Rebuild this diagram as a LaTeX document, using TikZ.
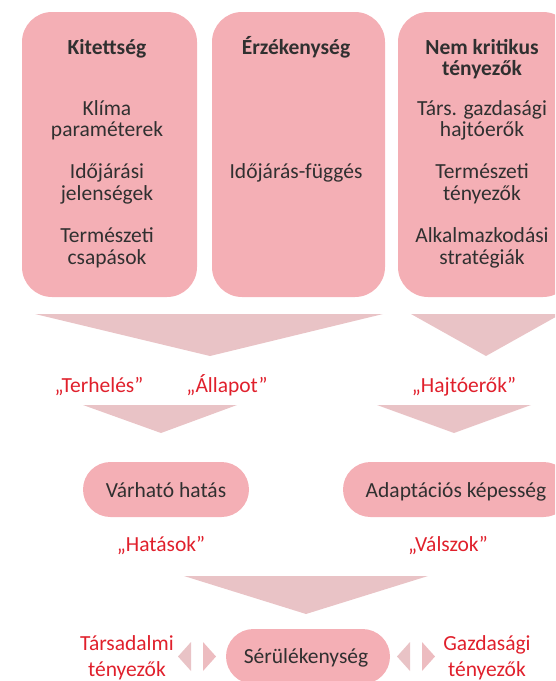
\documentclass[tikz,border=0pt]{standalone}
\usepackage{fontspec}
\setmainfont{Carlito}
\definecolor{boxpink}{HTML}{F4AFB5}
\definecolor{arrpink}{HTML}{E9C3C6}
\definecolor{arrpinkb}{HTML}{EDBCC0}
\definecolor{lblred}{HTML}{E0202C}
\definecolor{txtgray}{HTML}{303030}
\tikzset{
  bigbox/.style={fill=boxpink, draw=none, rounded corners=30pt, inner sep=0pt},
  pill/.style={fill=boxpink, draw=none, rounded corners=27.5pt, inner sep=0pt, minimum height=55pt},
  boxtxt/.style={anchor=base, inner sep=0pt, text=txtgray, font=\fontsize{21.5}{21.5}\selectfont},
  boxhead/.style={boxtxt, font=\fontsize{21.5}{21.5}\selectfont\bfseries},
  lbl/.style={anchor=base, inner sep=0pt, text=lblred, font=\fontsize{21.5}{21.5}\selectfont},
  bigarrow/.style={fill=arrpink, draw=none},
}
\begin{document}
\begin{tikzpicture}[x=1pt,y=-1pt]
\useasboundingbox (0,0) rectangle (555,681);
\clip (0,0) rectangle (555,681);
% top boxes
\node[bigbox, minimum width=175pt, minimum height=285pt] (b1) at (109.5,154.5) {};
\node[bigbox, minimum width=173pt, minimum height=285pt] (b2) at (298.5,154.5) {};
\node[bigbox, minimum width=175pt, minimum height=285pt] (b3) at (485.5,154.5) {};
% box 1 text
\node[boxhead] (t11) at (107,54) {Kitettség};
\node[boxtxt] (t12) at (107,115) {Klíma};
\node[boxtxt] (t13) at (107,136) {paraméterek};
\node[boxtxt] (t14) at (107,178) {Időjárási};
\node[boxtxt] (t15) at (107,200) {jelenségek};
\node[boxtxt] (t16) at (107,242) {Természeti};
\node[boxtxt] (t17) at (107,264) {csapások};
% box 2 text
\node[boxhead] (t21) at (296,54) {Érzékenység};
\node[boxtxt] (t22) at (296,178) {Időjárás-függés};
% box 3 text
\node[boxhead] (t31) at (482,54) {Nem kritikus};
\node[boxhead] (t32) at (482,75) {tényezők};
\node[boxtxt] (t33) at (482,115) {Társ. gazdasági};
\node[boxtxt] (t34) at (482,136) {hajtóerők};
\node[boxtxt] (t35) at (482,178) {Természeti};
\node[boxtxt] (t36) at (482,200) {tényezők};
\node[boxtxt] (t37) at (482,242) {Alkalmazkodási};
\node[boxtxt] (t38) at (482,264) {stratégiák};
% big arrows
\fill[bigarrow] (35,314) -- (383,314) -- (210,356) -- cycle;
\fill[bigarrow] (411,314) -- (561,314) -- (486,356) -- cycle;
\fill[bigarrow] (83,405) -- (237,405) -- (161,433) -- cycle;
\fill[bigarrow] (377,405) -- (531,405) -- (454,433) -- cycle;
\fill[bigarrow] (184,576) -- (428,576) -- (306,614) -- cycle;
% labels
\node[lbl] (l1) at (99,392) {„Terhelés”};
\node[lbl] (l2) at (227,392) {„Állapot”};
\node[lbl] (l3) at (464,392) {„Hajtóerők”};
\node[lbl] (l4) at (161,551) {„Hatások”};
\node[lbl] (l5) at (448,551) {„Válszok”};
% pills
\node[pill, minimum width=166pt] (p1) at (166,489.5) {};
\node[boxtxt] (p1t) at (166,497) {Várható hatás};
\node[pill, minimum width=228pt] (p2) at (457,489.5) {};
\node[boxtxt] (p2t) at (456,497) {Adaptációs képesség};
\node[pill, minimum width=164pt] (p3) at (308,656.5) {};
\node[boxtxt] (p3t) at (306,663) {Sérülékenység};
% bottom side labels
\node[lbl] (s1) at (127,650) {Társadalmi};
\node[lbl] (s2) at (127,676) {tényezők};
\node[lbl] (s3) at (487,650) {Gazdasági};
\node[lbl] (s4) at (487,676) {tényezők};
% small double arrows
\fill[arrpink] (191,642) -- (191,671) -- (178,656.5) -- cycle;
\fill[arrpinkb] (203,642) -- (203,671) -- (216,656.5) -- cycle;
\fill[arrpink] (410,642) -- (410,671) -- (397,656.5) -- cycle;
\fill[arrpinkb] (422,642) -- (422,671) -- (435,656.5) -- cycle;
\end{tikzpicture}
\end{document}
